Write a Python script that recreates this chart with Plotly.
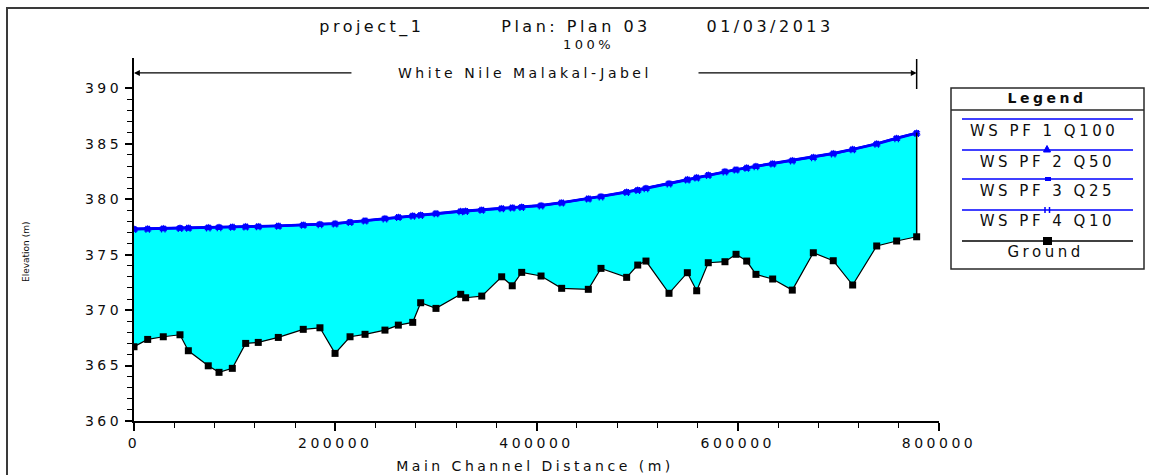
import plotly.graph_objects as go

# River stations along the main channel (m) and computed profiles
station = [0, 13600, 29100, 45700, 54000, 73800, 84500, 97700, 111000, 123500,
           143400, 168200, 184800, 199800, 214700, 229600, 249400, 262700, 277000, 284900,
           300100, 324700, 329600, 345600, 365400, 375900, 385300, 404500, 425000, 451500,
           464100, 489600, 500600, 508800, 531700, 549900, 559200, 570700, 587300, 598300,
           608900, 618100, 634700, 654200, 675100, 694900, 714200, 738100, 757900, 777800]

ground = [366.70, 367.36, 367.60, 367.78, 366.34, 364.98, 364.39, 364.75, 367.00, 367.09,
          367.54, 368.27, 368.41, 366.10, 367.60, 367.82, 368.20, 368.65, 368.90, 370.67,
          370.16, 371.43, 371.12, 371.27, 373.01, 372.20, 373.41, 373.08, 371.97, 371.88,
          373.77, 372.96, 374.07, 374.43, 371.52, 373.38, 371.75, 374.28, 374.37, 375.04,
          374.43, 373.23, 372.81, 371.81, 375.18, 374.46, 372.27, 375.79, 376.24, 376.62]

ws_pf1_q100 = [377.36, 377.38, 377.41, 377.45, 377.46, 377.50, 377.52, 377.55, 377.58, 377.60,
               377.64, 377.73, 377.79, 377.85, 377.98, 378.12, 378.31, 378.43, 378.56, 378.63,
               378.77, 378.96, 378.99, 379.09, 379.22, 379.29, 379.35, 379.48, 379.74, 380.10,
               380.30, 380.70, 380.88, 381.04, 381.47, 381.82, 382.00, 382.23, 382.55, 382.72,
               382.88, 383.02, 383.26, 383.54, 383.83, 384.17, 384.55, 385.05, 385.55, 386.02]

ws_pf2_q50 = [377.34, 377.36, 377.39, 377.43, 377.44, 377.48, 377.50, 377.53, 377.56, 377.58,
              377.62, 377.71, 377.77, 377.83, 377.96, 378.10, 378.29, 378.41, 378.54, 378.61,
              378.75, 378.94, 378.97, 379.07, 379.20, 379.27, 379.33, 379.46, 379.72, 380.08,
              380.28, 380.68, 380.86, 381.02, 381.45, 381.80, 381.98, 382.21, 382.53, 382.70,
              382.86, 383.00, 383.24, 383.52, 383.81, 384.15, 384.53, 385.03, 385.53, 386.00]

ws_pf3_q25 = [377.31, 377.33, 377.36, 377.40, 377.41, 377.45, 377.47, 377.50, 377.53, 377.55,
              377.59, 377.68, 377.74, 377.80, 377.93, 378.07, 378.26, 378.38, 378.51, 378.58,
              378.72, 378.91, 378.94, 379.04, 379.17, 379.24, 379.30, 379.43, 379.69, 380.05,
              380.25, 380.65, 380.83, 380.99, 381.42, 381.77, 381.95, 382.18, 382.50, 382.67,
              382.83, 382.97, 383.21, 383.49, 383.78, 384.12, 384.50, 385.00, 385.50, 385.97]

ws_pf4_q10 = [377.28, 377.30, 377.33, 377.37, 377.38, 377.42, 377.44, 377.47, 377.50, 377.52,
              377.56, 377.65, 377.71, 377.77, 377.90, 378.04, 378.23, 378.35, 378.48, 378.55,
              378.69, 378.88, 378.91, 379.01, 379.14, 379.21, 379.27, 379.40, 379.66, 380.02,
              380.22, 380.62, 380.80, 380.96, 381.39, 381.74, 381.92, 382.15, 382.47, 382.64,
              382.80, 382.94, 383.18, 383.46, 383.75, 384.09, 384.47, 384.97, 385.47, 385.94]

profile_names = ["WS PF 1 Q100", "WS PF 2 Q50", "WS PF 3 Q25", "WS PF 4 Q10"]
x_ticks = [0, 200000, 400000, 600000, 800000]
y_ticks = [360, 365, 370, 375, 380, 385, 390]

reach_name = "White Nile Malakal-Jabel"
reach_level = 391.4

W, H = 1149, 475
ML, MR, MT, MB = 134, 210, 58, 54
PW, PH = W - ML - MR, H - MT - MB

def px(x):
    return (x - ML) / PW

def py(y):
    return (H - MB - y) / PH

BLUE = "#0000ff"
TXT = "#0d0d0d"
FONT = "DejaVu Sans"

fig = go.Figure()

# ground baseline for the water fill
fig.add_trace(go.Scatter(x=station, y=ground, mode="lines", line=dict(width=0),
                         showlegend=False, hoverinfo="skip"))
fig.add_trace(go.Scatter(x=station, y=ws_pf1_q100, mode="lines", fill="tonexty",
                         fillcolor="#00ffff", line=dict(color=BLUE, width=2),
                         name=profile_names[0], showlegend=False))
fig.add_trace(go.Scatter(x=station, y=ws_pf2_q50, mode="lines+markers",
                         line=dict(color=BLUE, width=2),
                         marker=dict(symbol="triangle-up", size=7, color=BLUE),
                         name=profile_names[1], showlegend=False))
fig.add_trace(go.Scatter(x=station, y=ws_pf3_q25, mode="lines+markers",
                         line=dict(color=BLUE, width=2),
                         marker=dict(symbol="square", size=5, color=BLUE),
                         name=profile_names[2], showlegend=False))
fig.add_trace(go.Scatter(x=station, y=ws_pf4_q10, mode="lines+markers",
                         line=dict(color=BLUE, width=2),
                         marker=dict(symbol="hash-open", size=7, color=BLUE,
                                     line=dict(color=BLUE, width=1.2)),
                         name=profile_names[3], showlegend=False))
fig.add_trace(go.Scatter(x=station, y=ground, mode="lines+markers",
                         line=dict(color="black", width=1.2),
                         marker=dict(symbol="square", size=7, color="black"),
                         name="Ground", showlegend=False))

shapes = []
annotations = []


def label(x, y, text, size=14, xref="paper", yref="paper", **kw):
    annotations.append(dict(x=x, y=y, xref=xref, yref=yref, text=text, showarrow=False,
                            xanchor="center", yanchor="middle",
                            font=dict(family=FONT, size=size, color=TXT), **kw))


# closing wall at the downstream end
shapes.append(dict(type="line", xref="x", yref="y", x0=station[-1], x1=station[-1],
                   y0=ground[-1], y1=ws_pf1_q100[-1], line=dict(color="black", width=1.5)))

# reach extent marker
gap_left, gap_right = 217600, 559500
annotations.append(dict(x=station[0], y=reach_level, ax=gap_left, ay=reach_level,
                        xref="x", yref="y", axref="x", ayref="y", text="",
                        showarrow=True, arrowhead=2, arrowsize=0.9, arrowwidth=1.3,
                        arrowcolor="black"))
annotations.append(dict(x=station[-1], y=reach_level, ax=gap_right, ay=reach_level,
                        xref="x", yref="y", axref="x", ayref="y", text="",
                        showarrow=True, arrowhead=2, arrowsize=0.9, arrowwidth=1.3,
                        arrowcolor="black"))
shapes.append(dict(type="line", xref="x", yref="paper", x0=station[-1], x1=station[-1],
                   y0=py(89), y1=py(59), line=dict(color="black", width=1.5)))
label(388600, reach_level, reach_name, xref="x", yref="y")

# outer frame
shapes.append(dict(type="rect", xref="paper", yref="paper", x0=px(7), x1=px(1165),
                   y0=py(495), y1=py(8), line=dict(color="#3a3a3a", width=2)))

# titles
label(px(372), py(27), "project_1", 16)
label(px(576), py(27), "Plan: Plan 03", 16)
label(px(770), py(27), "01/03/2013", 16)
label(px(588), py(45), "100%", 13)
label(px(535), py(466), "Main Channel Distance (m)", 14)
label(px(26), py(252), "Elevation (m)", 9, textangle=-90)

# legend box
LX0, LX1, LY0, LY1 = 951, 1144, 88, 269
shapes.append(dict(type="rect", xref="paper", yref="paper", x0=px(LX0), x1=px(LX1),
                   y0=py(LY1), y1=py(LY0), line=dict(color="#2a2a2a", width=1.5),
                   fillcolor="white"))
shapes.append(dict(type="line", xref="paper", yref="paper", x0=px(LX0), x1=px(LX1),
                   y0=py(110), y1=py(110), line=dict(color="#2a2a2a", width=1.5)))
label(px(1047), py(98), "<b>Legend</b>", 14)

legend_rows = [(profile_names[0], BLUE, 119, 131, 1044),
               (profile_names[1], BLUE, 150, 162, 1047),
               (profile_names[2], BLUE, 179, 191, 1047),
               (profile_names[3], BLUE, 210, 221, 1047),
               ("Ground", "black", 241, 252, 1045)]
for name, col, ly, ty, tx in legend_rows:
    shapes.append(dict(type="line", xref="paper", yref="paper", x0=px(962), x1=px(1133),
                       y0=py(ly), y1=py(ly), line=dict(color=col, width=1.5)))
    label(px(tx), py(ty), name, 15)

# legend symbols
shapes.append(dict(type="path", xref="paper", yref="paper",
                   path=f"M {px(1043.5)},{py(152)} L {px(1050.5)},{py(152)} L {px(1047)},{py(145.5)} Z",
                   fillcolor=BLUE, line=dict(color=BLUE, width=1)))
shapes.append(dict(type="rect", xref="paper", yref="paper", x0=px(1045), x1=px(1051),
                   y0=py(181), y1=py(177), fillcolor=BLUE, line=dict(width=0)))
for xx in (1045, 1049.5):
    shapes.append(dict(type="line", xref="paper", yref="paper", x0=px(xx), x1=px(xx),
                       y0=py(213), y1=py(207), line=dict(color=BLUE, width=1.5)))
shapes.append(dict(type="rect", xref="paper", yref="paper", x0=px(1043), x1=px(1052),
                   y0=py(245), y1=py(237), fillcolor="black", line=dict(width=0)))

fig.update_layout(
    width=W, height=H, autosize=False,
    margin=dict(l=ML, r=MR, t=MT, b=MB, pad=0),
    paper_bgcolor="white", plot_bgcolor="white",
    showlegend=False,
    shapes=shapes, annotations=annotations,
    font=dict(family=FONT, size=14, color=TXT),
    xaxis=dict(range=[0, 800000], tickvals=x_ticks, tickformat="d",
               showgrid=False, zeroline=False, showline=True, linecolor="black",
               linewidth=2, ticks="outside", ticklen=8, tickwidth=1.5, tickcolor="black",
               tickfont=dict(family=FONT, size=14, color=TXT),
               minor=dict(dtick=40000, ticks="outside", ticklen=5, tickwidth=1.2,
                          tickcolor="black", showgrid=False)),
    yaxis=dict(range=[360, 392.75], tickvals=y_ticks,
               showgrid=False, zeroline=False, showline=True, linecolor="black",
               linewidth=2, ticks="outside", ticklen=7, tickwidth=1.5, tickcolor="black",
               tickfont=dict(family=FONT, size=14, color=TXT),
               minor=dict(tickmode="array", tickvals=list(range(360, 391)),
                          ticks="outside", ticklen=5, tickwidth=1.2,
                          tickcolor="black", showgrid=False)),
)

# widen the glyph spacing of the labels (the rotated axis label stays compact)
spacing_js = """
document.querySelectorAll('text').forEach(function(t){
  if (t.textContent.indexOf('Elevation') < 0) { t.style.letterSpacing = '3.5px'; }
});
"""

fig.write_html("out.html", post_script=spacing_js)
